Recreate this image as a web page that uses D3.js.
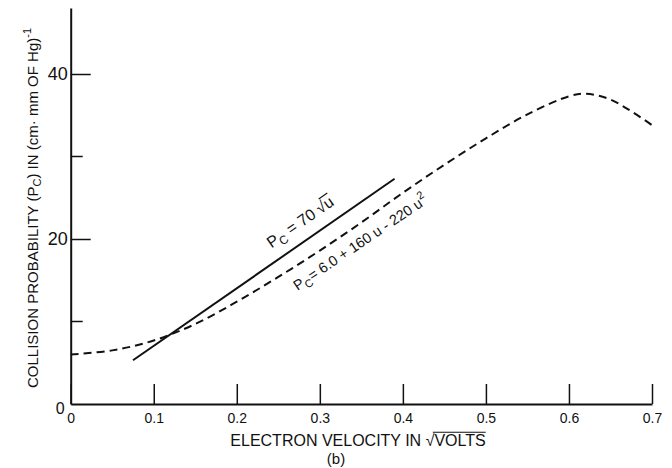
<!DOCTYPE html>
<html>
<head>
<meta charset="utf-8">
<script src="https://cdnjs.cloudflare.com/ajax/libs/d3/7.8.5/d3.min.js"></script>
<style>
body { margin: 0; background: #fff; }
text { font-family: "Liberation Sans", Arial, sans-serif; fill: #111; }
.axis path, .axis line { stroke: #111; }
</style>
</head>
<body>
<svg id="chart" width="672" height="468"></svg>
<script>
var velocity = [0, 0.05, 0.1, 0.15, 0.2, 0.25, 0.3, 0.35, 0.4, 0.45, 0.5, 0.55, 0.6, 0.62, 0.65, 0.7];
var measured = [6.0, 6.5, 7.7, 9.7, 12.4, 15.4, 18.6, 22.0, 25.6, 29.0, 32.2, 35.1, 37.3, 37.6, 36.9, 33.8];

// fitted straight line Pc = 70 sqrt(u) (solid)
var fitVelocity = [0.075, 0.39];
var fitPc = [5.3, 27.3];

var xTicks = [0, 0.1, 0.2, 0.3, 0.4, 0.5, 0.6, 0.7];
var xTickLabels = ["0", "0.1", "0.2", "0.3", "0.4", "0.5", "0.6", "0.7"];
var yTicks = [0, 20, 40];
var yMinorTicks = [10, 30];

var svg = d3.select("#chart");

var x = d3.scaleLinear().domain([0, 0.7]).range([70.7, 652]);
var y = d3.scaleLinear().domain([0, 48]).range([404, 8]);

// axes
var xAxis = d3.axisBottom(x)
  .tickValues(xTicks)
  .tickFormat(function(d, i) { return xTickLabels[i]; })
  .tickSizeInner(-20)
  .tickSizeOuter(0)
  .tickPadding(5);

var gx = svg.append("g").attr("class", "axis")
  .attr("transform", "translate(0," + y(0) + ")")
  .call(xAxis);
gx.select(".domain").attr("stroke-width", 2);
gx.selectAll(".tick line").attr("stroke-width", 1.5);
gx.selectAll(".tick text")
  .attr("font-size", 14)
  .attr("font-family", null)
  .attr("dy", "1em");

var yAxis = d3.axisLeft(y)
  .tickValues(yTicks)
  .tickSizeInner(-20)
  .tickSizeOuter(0)
  .tickPadding(4);

var gy = svg.append("g").attr("class", "axis")
  .attr("transform", "translate(" + x(0) + ",0)")
  .call(yAxis);
gy.select(".domain").attr("stroke-width", 2);
gy.selectAll(".tick line").attr("stroke-width", 1.5);
gy.selectAll(".tick text")
  .attr("font-size", 18)
  .attr("font-family", null)
  .attr("x", -3);
// origin "0" sits a little low
gy.selectAll(".tick").filter(function(d) { return d === 0; }).select("text")
  .attr("x", -6).attr("dy", "0.6em").attr("font-size", 16);
gy.selectAll(".tick").filter(function(d) { return d === 0; }).select("line").remove();

svg.append("g").selectAll("line").data(yMinorTicks).enter()
  .append("line")
  .attr("x1", x(0)).attr("x2", x(0) + 12)
  .attr("y1", function(d) { return y(d); })
  .attr("y2", function(d) { return y(d); })
  .attr("stroke", "#111")
  .attr("stroke-width", 1.5);

// curves
var line = d3.line()
  .x(function(d) { return x(d[0]); })
  .y(function(d) { return y(d[1]); })
  .curve(d3.curveCatmullRom.alpha(0.5));

svg.append("path")
  .datum(velocity.map(function(v, i) { return [v, measured[i]]; }))
  .attr("d", line)
  .attr("fill", "none")
  .attr("stroke", "#111")
  .attr("stroke-width", 2)
  .attr("stroke-dasharray", "8,5");

svg.append("path")
  .datum(fitVelocity.map(function(v, i) { return [v, fitPc[i]]; }))
  .attr("d", d3.line().x(function(d) { return x(d[0]); }).y(function(d) { return y(d[1]); }))
  .attr("fill", "none")
  .attr("stroke", "#111")
  .attr("stroke-width", 2);

// draw a bar over a tspan (radical sign)
function overline(g, tspan, size) {
  var node = tspan.node(), n = node.getNumberOfChars();
  var x0 = node.getStartPositionOfChar(0).x + size * 0.45,
      x1 = node.getEndPositionOfChar(n - 1).x,
      yy = node.getStartPositionOfChar(0).y - size * 0.86;
  g.append("line")
    .attr("x1", x0).attr("x2", x1).attr("y1", yy).attr("y2", yy)
    .attr("stroke", "#111").attr("stroke-width", 1.2);
}

// annotations along the lines
var fitAngle = Math.atan2(y(fitPc[1]) - y(fitPc[0]), x(fitVelocity[1]) - x(fitVelocity[0]));
var measuredAt = d3.scaleLinear().domain(velocity).range(measured);

function placeAlong(u, v, angle, offset) {
  var px = x(u) - Math.sin(angle) * offset,
      py = y(v) + Math.cos(angle) * offset;
  return "translate(" + px + "," + py + ") rotate(" + (angle * 180 / Math.PI) + ")";
}

var fitMid = 0.289;
var g1 = svg.append("g").attr("transform", placeAlong(fitMid, fitMid * 70, fitAngle, -13));
var t1 = g1.append("text").attr("text-anchor", "middle").attr("font-size", 16);
t1.append("tspan").text("P");
t1.append("tspan").attr("font-size", 12).attr("dy", 4).text("C");
t1.append("tspan").attr("dy", -4).text("  = 70 ");
var r1 = t1.append("tspan").text("\u221Au");
overline(g1, r1, 16);

var curveAngle = Math.atan2(y(measuredAt(0.45)) - y(measuredAt(0.25)), x(0.45) - x(0.25));
var g2 = svg.append("g").attr("transform", placeAlong(0.338, measuredAt(0.338), curveAngle, 21));
var t2 = g2.append("text").attr("text-anchor", "middle").attr("font-size", 14.5);
t2.append("tspan").text("P");
t2.append("tspan").attr("font-size", 11).attr("dy", 4).text("C");
t2.append("tspan").attr("dy", -4).text("= 6.0 + 160 u - 220 u");
t2.append("tspan").attr("font-size", 11).attr("dy", -7).text("2");

// axis titles
var gxt = svg.append("g");
var xt = gxt.append("text")
  .attr("x", 358).attr("y", 446)
  .attr("text-anchor", "middle")
  .attr("font-size", 16);
xt.append("tspan").text("ELECTRON VELOCITY IN  ");
var r2 = xt.append("tspan").text("\u221AVOLTS");
overline(gxt, r2, 16);

svg.append("text")
  .attr("x", 336).attr("y", 464)
  .attr("text-anchor", "middle")
  .attr("font-size", 15)
  .text("(b)");

var yt = svg.append("text")
  .attr("transform", "translate(38,208) rotate(-90)")
  .attr("text-anchor", "middle")
  .attr("font-size", 15);
yt.append("tspan").text("COLLISION PROBABILITY (P");
yt.append("tspan").attr("font-size", 11).attr("dy", 3).text("C");
yt.append("tspan").attr("dy", -3).text(") IN (cm\u00B7 mm OF Hg)");
yt.append("tspan").attr("font-size", 11).attr("dy", -7).text("-1");
</script>
</body>
</html>
